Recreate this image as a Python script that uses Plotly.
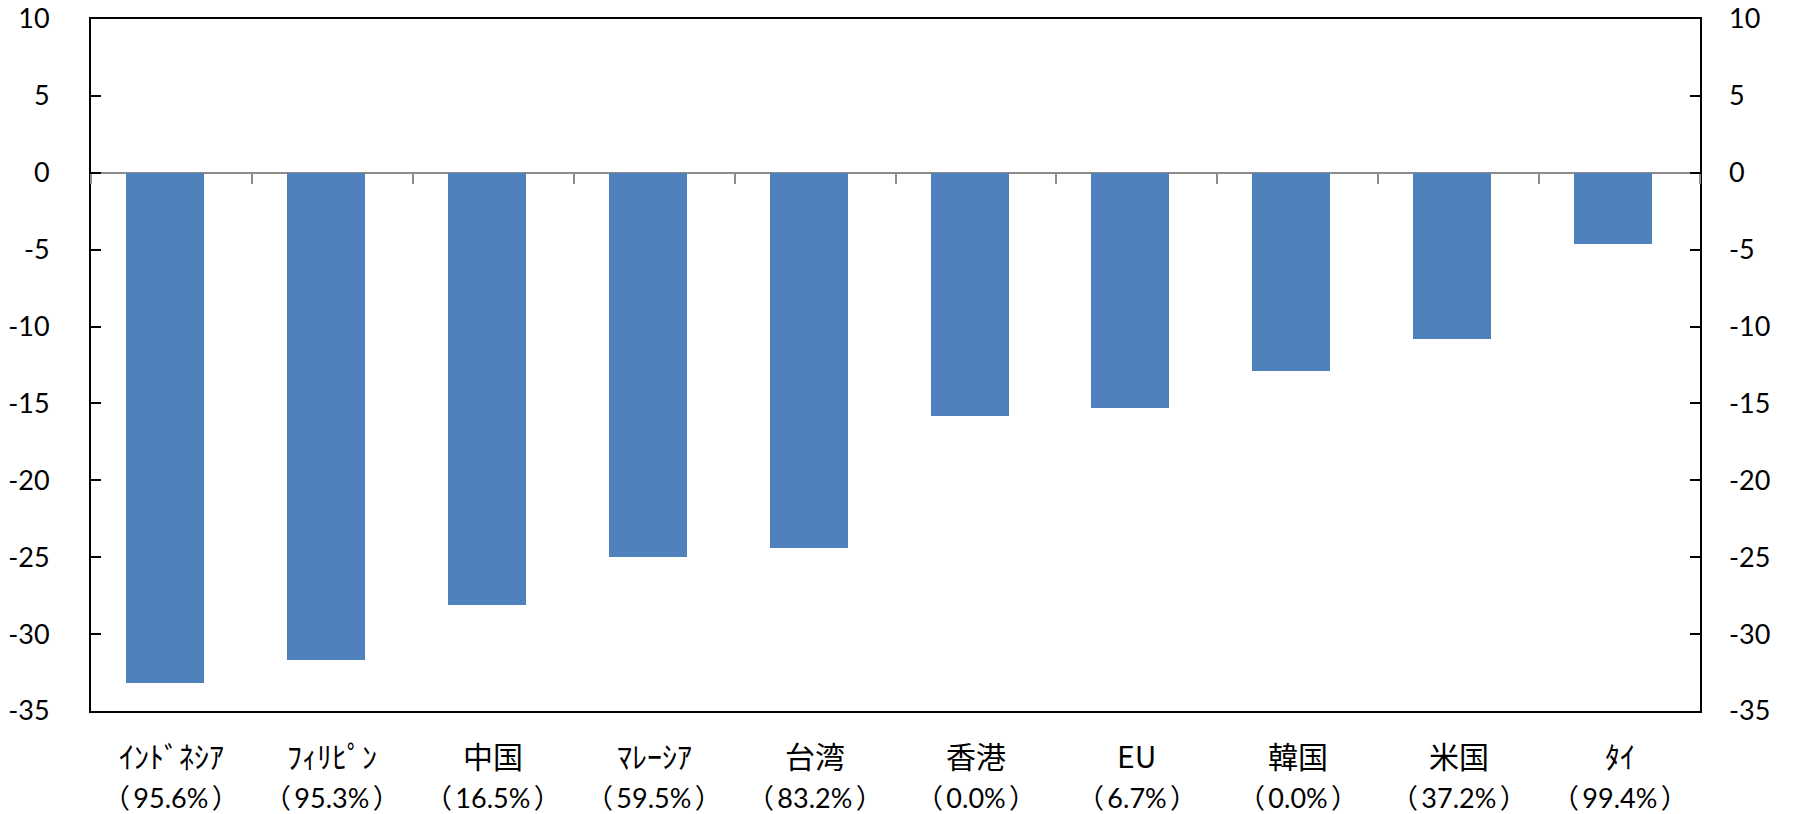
import plotly.graph_objects as go

# ---- data ----
categories = ["ｲﾝﾄﾞﾈｼｱ", "ﾌｨﾘﾋﾟﾝ", "中国", "ﾏﾚｰｼｱ", "台湾", "香港", "EU", "韓国", "米国", "ﾀｲ"]
shares = ["（95.6%）", "（95.3%）", "（16.5%）", "（59.5%）", "（83.2%）",
          "（0.0%）", "（6.7%）", "（0.0%）", "（37.2%）", "（99.4%）"]
values = [-33.2, -31.7, -28.1, -25.0, -24.4, -15.8, -15.3, -12.9, -10.8, -4.6]
y_tickvals = [10, 5, 0, -5, -10, -15, -20, -25, -30, -35]
y_ticktext = ["10", "5", "0", "-5", "-10", "-15", "-20", "-25", "-30", "-35"]
y_range = [-35, 10]

FONT = "Lato, 'Noto Sans CJK JP', sans-serif"
JFONT = "'Noto Sans CJK JP', Lato, sans-serif"
BAR_COLOR = "#4F81BD"
GRAY = "#8c8c8c"

fig = go.Figure()
fig.add_trace(go.Bar(
    x=categories, y=values,
    marker=dict(color=BAR_COLOR, line=dict(width=0)),
    width=0.485, offset=-0.2825,
    showlegend=False, hoverinfo="x+y",
))
# empty trace so the secondary axes are drawn
fig.add_trace(go.Scatter(x=[None], y=[None], xaxis="x2", yaxis="y2",
                         showlegend=False, hoverinfo="skip"))

n = len(categories)
boundaries = [i - 0.5 for i in range(n + 1)]
zero_pos = (0 - y_range[0]) / (y_range[1] - y_range[0])

fig.update_layout(
    width=1793, height=814,
    margin=dict(l=91, r=93, t=19, b=103, pad=0),
    paper_bgcolor="white", plot_bgcolor="white",
    font=dict(family=FONT, size=27, color="black"),
    bargap=0,
    xaxis=dict(
        type="category", range=[-0.5, n - 0.5], automargin=False,
        showline=True, mirror=True, linecolor="black", linewidth=2,
        ticks="", showticklabels=False, showgrid=False, zeroline=False,
    ),
    xaxis2=dict(
        overlaying="x", anchor="free", position=zero_pos, side="bottom",
        automargin=False,
        range=[-0.5, n - 0.5], tickmode="array", tickvals=boundaries,
        ticks="outside", ticklen=10, tickwidth=2, tickcolor=GRAY,
        showticklabels=False, showline=False, showgrid=False, zeroline=False,
    ),
    yaxis=dict(
        range=y_range, tickmode="array", tickvals=y_tickvals, ticktext=y_ticktext,
        automargin=False, ticklabeloverflow="allow",
        ticks="inside", ticklen=10, tickwidth=2, tickcolor="black",
        showline=True, mirror=True, linecolor="black", linewidth=2,
        showgrid=False, zeroline=True, zerolinecolor=GRAY, zerolinewidth=2,
        ticklabelstandoff=34,
        tickfont=dict(family=FONT, size=27),
    ),
    yaxis2=dict(
        overlaying="y", side="right", anchor="x", automargin=False,
        ticklabeloverflow="allow",
        range=y_range, tickmode="array", tickvals=y_tickvals, ticktext=y_ticktext,
        ticks="inside", ticklen=10, tickwidth=2, tickcolor="black",
        showline=False, showgrid=False, zeroline=False,
        ticklabelstandoff=28,
        tickfont=dict(family=FONT, size=27),
    ),
)

annotations = []
for cat, sh in zip(categories, shares):
    sh_text = sh.replace("（", "（\u2009").replace("）", "\u2009）")
    annotations.append(dict(x=cat, xref="x", y=0, yref="paper", yshift=-44,
                            yanchor="middle", xanchor="center", showarrow=False,
                            text=cat, font=dict(family=JFONT, size=30, color="black")))
    annotations.append(dict(x=cat, xref="x", y=0, yref="paper", yshift=-86,
                            yanchor="middle", xanchor="center", showarrow=False,
                            text=sh_text, font=dict(family=FONT, size=27, color="black")))
fig.update_layout(annotations=annotations)

# remove the default page margin so the figure fills the window exactly
fig.write_html("out.html", config={"displayModeBar": False},
               post_script="document.body.style.margin='0';")
